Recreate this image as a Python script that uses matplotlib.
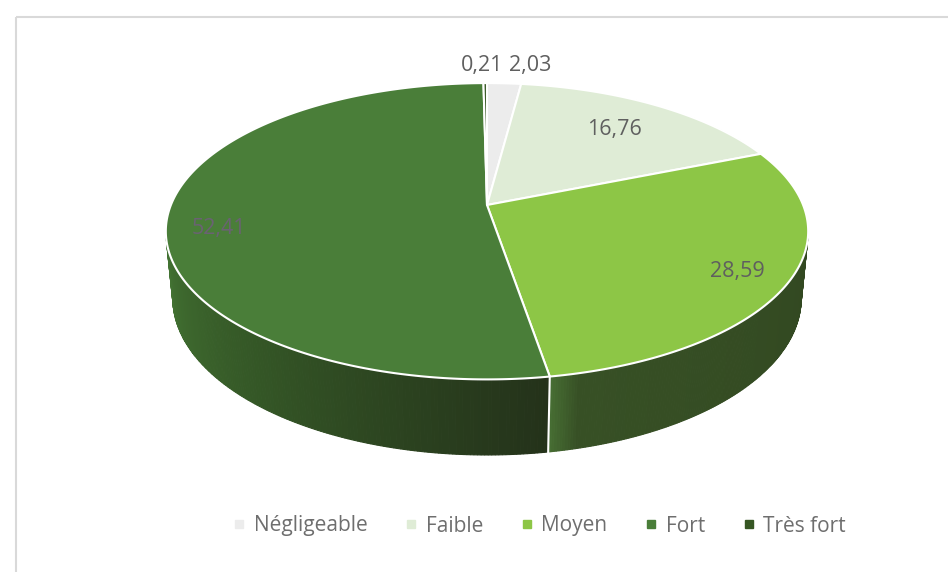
import numpy as np
import matplotlib.pyplot as plt
from matplotlib.patches import Polygon, Rectangle
from matplotlib.lines import Line2D

# parts of each intensity class, in percent
categories = ['Négligeable', 'Faible', 'Moyen', 'Fort', 'Très fort']
values = [2.03, 16.76, 28.59, 52.41, 0.21]
labels = ['2,03', '16,76', '28,59', '52,41', '0,21']
top_colors = ['#ececec', '#dfecd6', '#8dc646', '#4a7e39', '#365623']

# simple perspective camera for the 3d pie
cx, cy = 487, 205
F = 1590.0
elev = np.radians(27)
D = 5.03
thick = 0.24
ce, se = np.cos(elev), np.sin(elev)


def proj(phi, r=1.0, z=0.0):
    X = r * np.sin(phi)
    Y = r * np.cos(phi)
    depth = Y * ce - z * se + D
    return cx + F * X / depth, cy - F * (Y * se + z * ce) / depth


def lerp_color(stops, f):
    xs = [s[0] for s in stops]
    rgb = np.array([s[1] for s in stops], dtype=float)
    return [np.interp(f, xs, rgb[:, k]) / 255 for k in range(3)]


# side shading along the visible wall, f=0 at the start angle of the slice
side_stops = {
    'Moyen': [(0.0, (50, 72, 33)), (0.93, (55, 80, 37)), (1.0, (72, 112, 52))],
    'Fort': [(0.0, (36, 50, 26)), (0.55, (52, 86, 38)), (1.0, (66, 114, 50))],
}

fig = plt.figure(figsize=(9.48, 5.72), dpi=100)
ax = fig.add_axes([0, 0, 1, 1])
ax.set_xlim(0, 948)
ax.set_ylim(572, 0)
ax.axis('off')

# chart area frame
ax.add_patch(Rectangle((16, 17), 960, 600, fill=False, ec='#d9d9d9', lw=1.5))

fracs = np.array(values) / sum(values)
starts = np.concatenate([[0], np.cumsum(fracs)[:-1]]) * 2 * np.pi
ends = np.cumsum(fracs) * 2 * np.pi

# the outer wall is seen where Y < -1/(D*cos(elev))
vis_lo = np.pi - np.arccos(1 / (D * ce))
vis_hi = np.pi + np.arccos(1 / (D * ce))

for name, a0, a1 in zip(categories, starts, ends):
    lo, hi = max(a0, vis_lo), min(a1, vis_hi)
    if lo >= hi:
        continue
    phis = np.linspace(lo, hi, 160)
    stops = side_stops.get(name, [(0, (40, 60, 30)), (1, (40, 60, 30))])
    for k in range(len(phis) - 1):
        p0, p1 = phis[k], phis[k + 1]
        col = lerp_color(stops, (p0 - lo) / (hi - lo))
        quad = [proj(p0), proj(p1), proj(p1, z=-thick), proj(p0, z=-thick)]
        ax.add_patch(Polygon(quad, closed=True, fc=col, ec=col, lw=0.8))

# white seams on the wall where slices meet
for a in ends:
    if vis_lo < a < vis_hi:
        xs, ys = zip(proj(a), proj(a, z=-thick))
        ax.plot(xs, ys, color='white', lw=1.5)

# top faces
for a0, a1, col in zip(starts, ends, top_colors):
    phis = np.linspace(a0, a1, max(int((a1 - a0) * 80), 3))
    pts = [proj(0, r=0)] + [proj(p) for p in phis]
    ax.add_patch(Polygon(pts, closed=True, fc=col, ec='white', lw=1.5,
                         joinstyle='round'))

# value labels: radius on the top face and an offset in pixels
label_pos = [(1.0, 26, -18), (0.73, 0, 0), (0.84, 0, 3), (0.84, 0, 13),
             (1.0, -3, -18)]
label_cols = ['#5f5f5f', '#5f5f5f', '#5f5f5f', '#6a6273', '#5f5f5f']
for a0, a1, txt, (r, dx, dy), c in zip(starts, ends, labels, label_pos,
                                       label_cols):
    x, y = proj((a0 + a1) / 2, r=r)
    ax.text(x + dx, y + dy, txt, ha='center', va='center', fontsize=15.5,
            family='Open Sans', color=c)

handles = [Line2D([], [], ls='', marker='s', ms=6, mfc=c, mec=c)
           for c in top_colors]
fig.legend(handles, categories, loc='center',
           bbox_to_anchor=(540 / 948, 1 - 526 / 572),
           ncol=5, frameon=False, handlelength=0.5, handletextpad=0.45,
           columnspacing=1.85, prop={'family': 'Open Sans', 'size': 15},
           labelcolor='#6e6e6e')

fig.savefig('out.png', dpi=100, facecolor='white')
